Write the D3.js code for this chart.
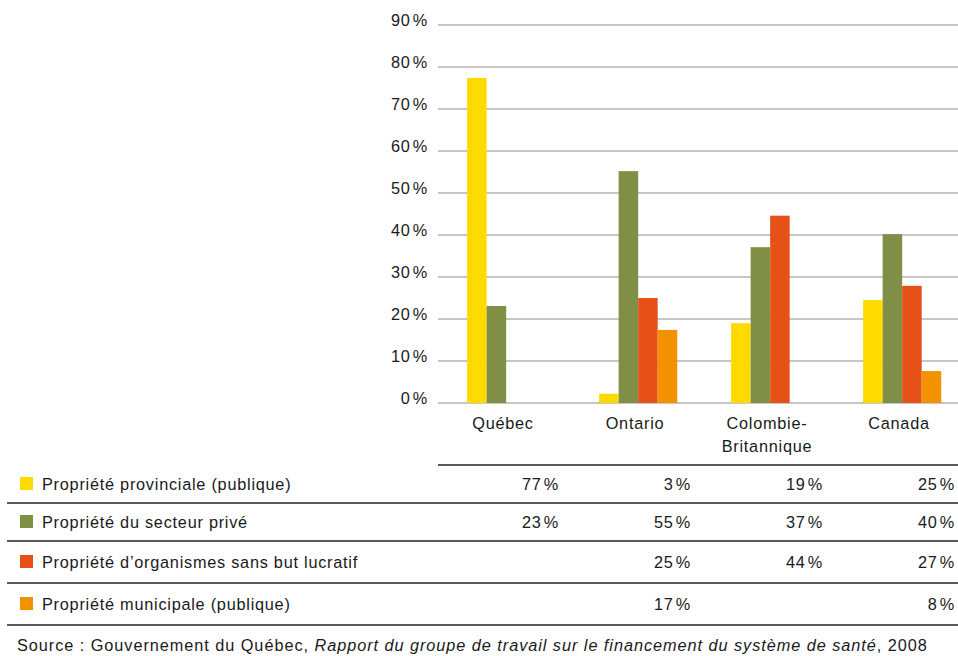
<!DOCTYPE html>
<html>
<head>
<meta charset="utf-8">
<script src="https://cdn.jsdelivr.net/npm/d3@7"></script>
<style>
  body { margin: 0; background: #fff; }
  svg { font-family: "Liberation Sans", Arial, sans-serif; }
  svg text { letter-spacing: 0.75px; }
</style>
</head>
<body>
<script>
// chart data
var categories = ["Québec", "Ontario", "Colombie-Britannique", "Canada"];
var categoryLines = [["Québec"], ["Ontario"], ["Colombie-", "Britannique"], ["Canada"]];
var seriesNames = [
  "Propriété provinciale (publique)",
  "Propriété du secteur privé",
  "Propriété d’organismes sans but lucratif",
  "Propriété municipale (publique)"
];
var seriesColors = ["#FFDA00", "#7F8F45", "#E65118", "#F29200"];
var provincial = [77.4, 2.2, 19.0, 24.5];
var prive = [23.1, 55.2, 37.1, 40.2];
var sansBut = [null, 25.0, 44.6, 27.9];
var municipal = [null, 17.4, null, 7.6];
// table text as printed under the chart
var provincialLabels = ["77", "3", "19", "25"];
var priveLabels = ["23", "55", "37", "40"];
var sansButLabels = ["", "25", "44", "27"];
var municipalLabels = ["", "17", "", "8"];
var yTicks = [0, 10, 20, 30, 40, 50, 60, 70, 80, 90];

var series = [provincial, prive, sansBut, municipal];
var tableLabels = [provincialLabels, priveLabels, sansButLabels, municipalLabels];

var width = 958, height = 656;
var pct = "\u200A%";
var fs = 16.3;

var svg = d3.select("body").append("svg")
    .attr("width", width)
    .attr("height", height);

var x0 = d3.scaleBand().domain(categories).range([438, 966]).paddingInner(0).paddingOuter(0);
var x1 = d3.scaleBand().domain(d3.range(series.length))
    .range([0, x0.bandwidth()]).paddingInner(0).paddingOuter(1.38).align(0.54);
var y = d3.scaleLinear().domain([0, 90]).range([403, 25]);

// grid lines
svg.append("g").selectAll("line")
    .data(yTicks)
    .enter().append("line")
    .attr("x1", 438).attr("x2", width)
    .attr("y1", function(d) { return y(d); })
    .attr("y2", function(d) { return y(d); })
    .attr("stroke", "#b3b3b3")
    .attr("stroke-width", 1.5);

// y labels
svg.append("g").selectAll("text")
    .data(yTicks)
    .enter().append("text")
    .attr("x", 428)
    .attr("y", function(d) { return y(d) + 1; })
    .attr("text-anchor", "end")
    .attr("font-size", fs)
    .attr("fill", "#1a1a1a")
    .text(function(d) { return d + pct; });

// bars
series.forEach(function(vals, s) {
    svg.append("g").selectAll("rect")
        .data(vals.map(function(v, i) { return {v: v, c: categories[i]}; })
            .filter(function(d) { return d.v != null; }))
        .enter().append("rect")
        .attr("x", function(d) { return x0(d.c) + x1(s); })
        .attr("width", x1.bandwidth())
        .attr("y", function(d) { return y(d.v); })
        .attr("height", function(d) { return y(0) - y(d.v); })
        .attr("fill", seriesColors[s]);
});

// category labels
categories.forEach(function(c, i) {
    var t = svg.append("text")
        .attr("text-anchor", "middle")
        .attr("font-size", fs)
        .attr("fill", "#1a1a1a");
    categoryLines[i].forEach(function(line, k) {
        t.append("tspan")
            .attr("x", x0(c) + x0.bandwidth() / 2 - 1)
            .attr("y", 429 + k * 23)
            .text(line);
    });
});

// table
var rowLines = [503, 541, 583, 625];
var rowTops = [465, 503, 541, 583];

svg.append("line")
    .attr("x1", 438).attr("x2", width)
    .attr("y1", 465).attr("y2", 465)
    .attr("stroke", "#222").attr("stroke-width", 1.5);

svg.append("g").selectAll("line")
    .data(rowLines)
    .enter().append("line")
    .attr("x1", 7).attr("x2", width)
    .attr("y1", function(d) { return d; })
    .attr("y2", function(d) { return d; })
    .attr("stroke", "#222")
    .attr("stroke-width", 1.5);

seriesNames.forEach(function(name, s) {
    var mid = (rowTops[s] + rowLines[s]) / 2;
    svg.append("rect")
        .attr("x", 20).attr("y", mid - 7)
        .attr("width", 13).attr("height", 13)
        .attr("fill", seriesColors[s]);
    svg.append("text")
        .attr("x", 42).attr("y", mid + 6)
        .attr("font-size", fs)
        .attr("fill", "#1a1a1a")
        .text(name);
    tableLabels[s].forEach(function(lab, i) {
        if (lab === "") return;
        svg.append("text")
            .attr("x", x0(categories[i]) + x0.bandwidth() - 11)
            .attr("y", mid + 6)
            .attr("text-anchor", "end")
            .attr("font-size", fs)
            .attr("fill", "#1a1a1a")
            .text(lab + pct);
    });
});

// source line
var src = svg.append("text")
    .attr("x", 17).attr("y", 651)
    .attr("font-size", fs)
    .attr("fill", "#1a1a1a")
    .style("letter-spacing", "0.95px");
src.append("tspan").text("Source : Gouvernement du Québec, ");
src.append("tspan").attr("font-style", "italic")
    .text("Rapport du groupe de travail sur le financement du système de santé");
src.append("tspan").text(", 2008");
</script>
</body>
</html>
